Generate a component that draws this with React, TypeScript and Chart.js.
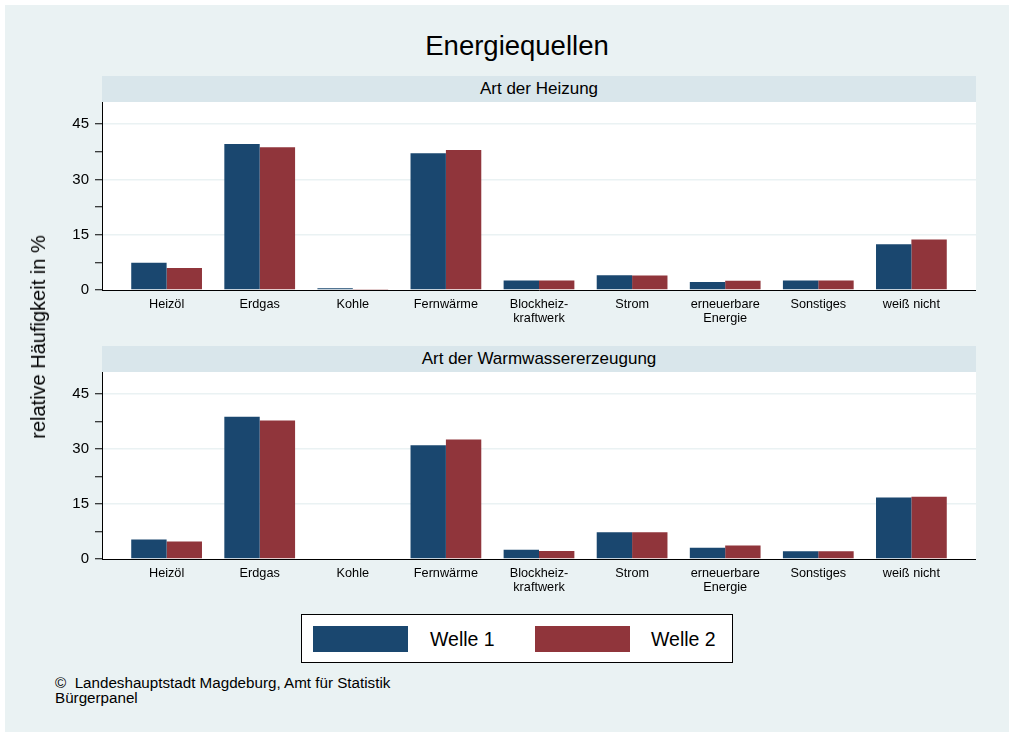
import React, { useEffect, useRef } from "react";
import { Chart, registerables } from "chart.js";

Chart.register(...registerables);

// ---- data ----
const categories: string[][] = [
  ["Heizöl"],
  ["Erdgas"],
  ["Kohle"],
  ["Fernwärme"],
  ["Blockheiz-", "kraftwerk"],
  ["Strom"],
  ["erneuerbare", "Energie"],
  ["Sonstiges"],
  ["weiß nicht"],
];
const heizungWelle1 = [7.4, 39.6, 0.5, 37.1, 2.6, 4.0, 2.2, 2.6, 12.4];
const heizungWelle2 = [6.0, 38.7, 0.3, 38.0, 2.6, 3.9, 2.5, 2.6, 13.7];
const wasserWelle1 = [5.3, 38.8, 0, 31.0, 2.5, 7.3, 3.1, 2.1, 16.8];
const wasserWelle2 = [4.8, 37.8, 0, 32.6, 2.2, 7.3, 3.7, 2.1, 17.0];
const yTicks = [0, 7.5, 15, 22.5, 30, 37.5, 45];
const yLabelTicks = [0, 15, 30, 45];
const seriesNames = ["Welle 1", "Welle 2"];
const panelTitles = ["Art der Heizung", "Art der Warmwassererzeugung"];
const chartTitle = "Energiequellen";
const yTitle = "relative Häufigkeit in %";
const footerLines = ["©  Landeshauptstadt Magdeburg, Amt für Statistik", "Bürgerpanel"];

const NAVY = "#1a476f";
const MAROON = "#90353b";
const BG = "#eaf2f3";
const STRIP = "#d9e6eb";
const FONT = "'Liberation Sans', Arial, Helvetica, sans-serif";

const whiteArea = {
  id: "whiteArea",
  beforeDraw(chart: any) {
    const { ctx, chartArea } = chart;
    ctx.save();
    ctx.fillStyle = "#ffffff";
    ctx.fillRect(chartArea.left, chartArea.top, chartArea.right - chartArea.left, chartArea.bottom - chartArea.top);
    ctx.restore();
  },
};

function makeConfig(w1: number[], w2: number[]): any {
  return {
    type: "bar",
    data: {
      datasets: [
        {
          label: seriesNames[0],
          data: w1.map((v, i) => ({ x: i, y: v })),
          backgroundColor: NAVY,
          borderWidth: 0,
        },
        {
          label: seriesNames[1],
          data: w2.map((v, i) => ({ x: i, y: v })),
          backgroundColor: MAROON,
          borderWidth: 0,
        },
      ],
    },
    options: {
      animation: false,
      responsive: false,
      maintainAspectRatio: false,
      categoryPercentage: 0.76,
      barPercentage: 1,
      layout: { padding: 0 },
      plugins: {
        legend: { display: false },
        tooltip: { enabled: false },
        title: { display: false },
      },
      scales: {
        x: {
          type: "linear",
          min: -0.694,
          max: 8.694,
          offset: false,
          grid: { display: false, drawTicks: false, offset: false },
          border: { display: true, color: "#000", width: 1 },
          afterBuildTicks: (s: any) => {
            s.ticks = categories.map((_, i) => ({ value: i }));
          },
          ticks: {
            autoSkip: false,
            maxRotation: 0,
            minRotation: 0,
            padding: 8,
            color: "#000",
            font: { family: FONT, size: 12.7, lineHeight: 1.1 },
            callback: (v: any) => categories[Math.round(v)] ?? "",
          },
          afterFit: (s: any) => {
            s.height = 40;
            s.paddingLeft = 0;
            s.paddingRight = 0;
          },
        },
        y: {
          min: 0,
          max: 51,
          afterBuildTicks: (s: any) => {
            s.ticks = yTicks.map((v) => ({ value: v }));
          },
          grid: {
            drawTicks: true,
            tickLength: 7,
            tickColor: "#000",
            tickWidth: 1,
            lineWidth: 1.5,
            color: (ctx: any) =>
              ctx.tick && ctx.tick.value > 0 && yLabelTicks.includes(ctx.tick.value) ? BG : "rgba(0,0,0,0)",
          },
          border: { display: true, color: "#000", width: 1 },
          ticks: {
            padding: 6,
            color: "#000",
            font: { family: FONT, size: 15 },
            callback: (v: any) => (yLabelTicks.includes(v) ? String(v) : ""),
          },
          afterFit: (s: any) => {
            s.width = 72;
            s.paddingTop = 0;
            s.paddingBottom = 0;
          },
        },
      },
    },
    plugins: [whiteArea],
  };
}

function Panel({ w1, w2, top, height }: { w1: number[]; w2: number[]; top: number; height: number }) {
  const ref = useRef<HTMLCanvasElement | null>(null);
  useEffect(() => {
    if (!ref.current) return;
    const chart = new Chart(ref.current, makeConfig(w1, w2));
    return () => chart.destroy();
  }, [w1, w2]);
  return (
    <canvas
      ref={ref}
      width={946}
      height={height}
      style={{ position: "absolute", left: 30, top, width: 946, height }}
    />
  );
}

const stripStyle = (top: number): React.CSSProperties => ({
  position: "absolute",
  left: 102,
  top,
  width: 874,
  height: 26,
  background: STRIP,
  fontFamily: FONT,
  fontSize: 17,
  lineHeight: "26px",
  textAlign: "center",
  color: "#000",
});

export default function App() {
  return (
    <div
      style={{
        position: "fixed",
        left: 0,
        top: 0,
        width: 1009,
        height: 732,
        background: "#ffffff",
        overflow: "hidden",
        fontFamily: FONT,
      }}
    >
      <div style={{ position: "absolute", left: 5, top: 5, width: 1004, height: 727, background: BG }} />
      <div
        style={{
          position: "absolute",
          left: 317,
          width: 400,
          top: 32,
          fontSize: 27.5,
          lineHeight: "27.5px",
          textAlign: "center",
          color: "#000",
        }}
      >
        {chartTitle}
      </div>
      <div style={stripStyle(76)}>{panelTitles[0]}</div>
      <div style={stripStyle(346)}>{panelTitles[1]}</div>
      <Panel w1={heizungWelle1} w2={heizungWelle2} top={102} height={228} />
      <Panel w1={wasserWelle1} w2={wasserWelle2} top={372} height={227} />
      <div
        style={{
          position: "absolute",
          left: 38,
          top: 337,
          transform: "translate(-50%, -50%) rotate(-90deg)",
          whiteSpace: "nowrap",
          fontSize: 20,
          lineHeight: "22px",
          color: "#000",
        }}
      >
        {yTitle}
      </div>
      <div
        style={{
          position: "absolute",
          left: 301,
          top: 614,
          width: 432,
          height: 49,
          boxSizing: "border-box",
          border: "1px solid #000",
          background: "#fff",
        }}
      >
        <div style={{ position: "absolute", left: 11, top: 11, width: 95, height: 26, background: NAVY }} />
        <div style={{ position: "absolute", left: 128, top: 12, fontSize: 19.5, lineHeight: "24px", color: "#000" }}>
          {seriesNames[0]}
        </div>
        <div style={{ position: "absolute", left: 233, top: 11, width: 95, height: 26, background: MAROON }} />
        <div style={{ position: "absolute", left: 349, top: 12, fontSize: 19.5, lineHeight: "24px", color: "#000" }}>
          {seriesNames[1]}
        </div>
      </div>
      <div
        style={{
          position: "absolute",
          left: 55,
          top: 676,
          fontSize: 15.2,
          lineHeight: "14.5px",
          color: "#000",
          whiteSpace: "pre",
        }}
      >
        {footerLines.map((l, i) => (
          <div key={i}>{l}</div>
        ))}
      </div>
    </div>
  );
}
